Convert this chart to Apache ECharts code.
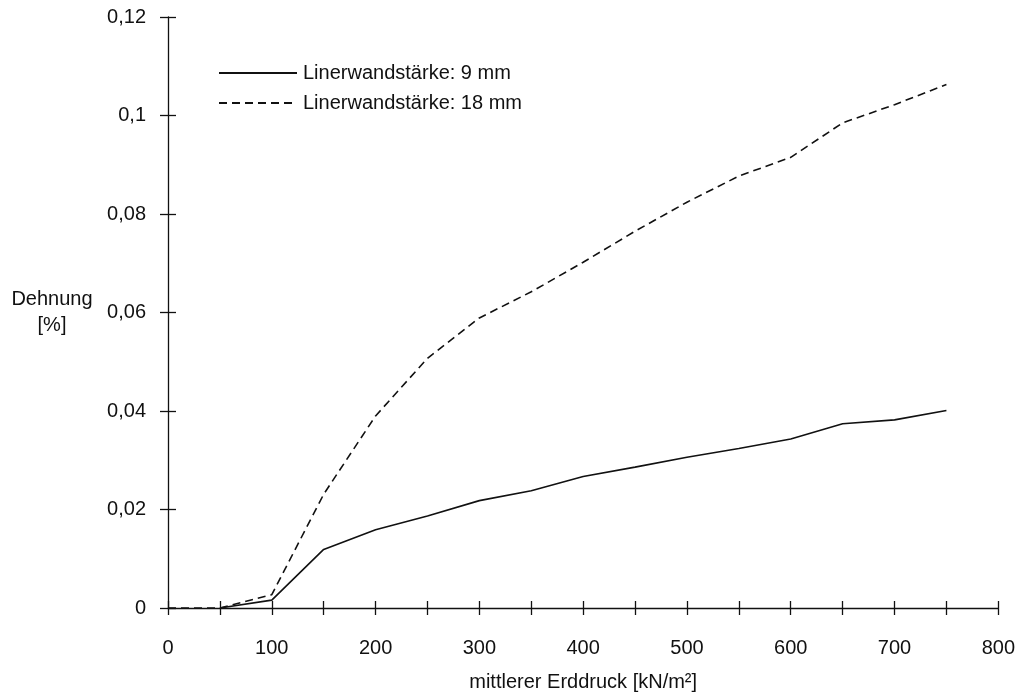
<!DOCTYPE html>
<html>
<head>
<meta charset="utf-8">
<script src="https://cdn.jsdelivr.net/npm/echarts@6/dist/echarts.min.js"></script>
<style>
  html, body { margin: 0; padding: 0; background: #fff; }
  #main { width: 1018px; height: 697px; }
</style>
</head>
<body>
<div id="main"></div>
<script>
// mittlerer Erddruck [kN/m²]
var pressure = [0, 50, 100, 150, 200, 250, 300, 350, 400, 450, 500, 550, 600, 650, 700, 750]
// Dehnung [%]
var wall9 = [null, 0, 0.0016, 0.0119, 0.0159, 0.0187, 0.0218, 0.0238, 0.0267, 0.0286, 0.0306, 0.0324, 0.0343, 0.0374, 0.0382, 0.0401]
var wall18 = [0, 0, 0.0027, 0.0231, 0.0390, 0.0507, 0.0589, 0.0642, 0.0702, 0.0765, 0.0824, 0.0877, 0.0915, 0.0985, 0.1022, 0.1063]
var seriesNames = ['Linerwandstärke: 9 mm', 'Linerwandstärke: 18 mm']

function pairs(ys) {
  var out = []
  for (var i = 0; i < pressure.length; i++) {
    if (ys[i] !== null) out.push([pressure[i], ys[i]])
  }
  return out
}

var font = 'Liberation Sans, Arial, sans-serif'
var ink = '#111'

var chart = echarts.init(document.getElementById('main'))
var axisLine = { show: true, onZero: false, lineStyle: { color: ink, width: 1.3 } }

var option = {
  backgroundColor: '#fff',
  animation: false,
  textStyle: { fontFamily: font },
  grid: { left: 168, right: 19, top: 17, bottom: 86, containLabel: false },
  legend: {
    orient: 'vertical',
    left: 218,
    top: 63,
    padding: 0,
    itemWidth: 78,
    itemHeight: 20,
    itemGap: 10,
    itemStyle: { opacity: 0 }, // nur die Linie zeigen
    textStyle: { fontSize: 20, color: ink, fontFamily: font, padding: [0, 0, 0, 1] },
    data: seriesNames
  },
  xAxis: [{
    type: 'value',
    min: 0,
    max: 800,
    interval: 50,
    position: 'bottom',
    axisLine: axisLine,
    axisTick: { show: true, inside: true, length: 7, lineStyle: { color: ink, width: 1.3 } },
    axisLabel: {
      margin: 30,
      fontSize: 20,
      color: ink,
      fontFamily: font,
      formatter: function(v) { return v % 100 === 0 ? String(v) : '' }
    },
    splitLine: { show: false },
    name: 'mittlerer Erddruck [kN/m²]',
    nameLocation: 'middle',
    nameGap: 64,
    nameTextStyle: { fontSize: 20, color: ink, fontFamily: font }
  }, {
    type: 'value',
    min: 0,
    max: 800,
    interval: 50,
    position: 'bottom',
    offset: 0,
    axisLine: { show: false },
    axisTick: { show: true, inside: false, length: 7, lineStyle: { color: ink, width: 1.3 } },
    axisLabel: { show: false },
    splitLine: { show: false }
  }],
  yAxis: [{
    type: 'value',
    min: 0,
    max: 0.12,
    interval: 0.02,
    position: 'left',
    axisLine: axisLine,
    axisTick: { show: true, inside: true, length: 8, lineStyle: { color: ink, width: 1.3 } },
    axisLabel: {
      margin: 22,
      fontSize: 20,
      color: ink,
      fontFamily: font,
      formatter: function(v) { return String(+v.toFixed(2)).replace('.', ',') }
    },
    splitLine: { show: false },
    name: 'Dehnung\n[%]',
    nameLocation: 'middle',
    nameRotate: 0,
    nameGap: 116,
    nameTextStyle: { fontSize: 20, color: ink, fontFamily: font, align: 'center', verticalAlign: 'middle', lineHeight: 26 }
  }, {
    type: 'value',
    min: 0,
    max: 0.12,
    interval: 0.02,
    position: 'left',
    offset: 0,
    axisLine: { show: false },
    axisTick: { show: true, inside: false, length: 8, lineStyle: { color: ink, width: 1.3 } },
    axisLabel: { show: false },
    splitLine: { show: false }
  }],
  series: [{
    name: seriesNames[0],
    type: 'line',
    xAxisIndex: 0,
    yAxisIndex: 0,
    data: pairs(wall9),
    symbol: 'none',
    lineStyle: { color: ink, width: 1.6, type: 'solid' },
    itemStyle: { color: ink }
  }, {
    name: seriesNames[1],
    type: 'line',
    xAxisIndex: 0,
    yAxisIndex: 0,
    data: pairs(wall18),
    symbol: 'none',
    lineStyle: { color: ink, width: 1.6, type: [8, 5] },
    itemStyle: { color: ink }
  }]
}

chart.setOption(option)
</script>
</body>
</html>
